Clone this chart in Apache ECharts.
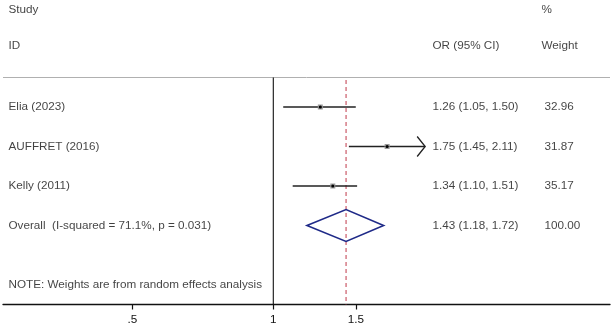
<!DOCTYPE html>
<html>
<head>
<meta charset="utf-8">
<script src="https://cdn.jsdelivr.net/npm/echarts@6/dist/echarts.min.js"></script>
<style>
  html, body { margin: 0; padding: 0; background: #fff; }
  #chart { width: 612px; height: 329px; }
</style>
</head>
<body>
<div id="chart"></div>
<script>
// study rows
const studies = ['Elia (2023)', 'AUFFRET (2016)', 'Kelly (2011)']
const estimates = [1.26, 1.75, 1.34]
const lowers = [1.05, 1.45, 1.10]
const uppers = [1.50, 2.11, 1.51]
const weights = ['32.96', '31.87', '35.17']
const clippedRight = [false, true, false]

// pooled estimate
const overallLabel = 'Overall  (I-squared = 71.1%, p = 0.031)'
const overallEst = 1.43
const overallLow = 1.18
const overallHigh = 1.72
const overallWeight = '100.00'
const noteText = 'NOTE: Weights are from random effects analysis'

// x axis (log scale)
const tickValues = [0.5, 1, 1.5]
const tickLabels = ['.5', '1', '1.5']

// layout: pixel -> data coordinate helpers
const X_ONE = 273.3, PX_LN = 203.4, ROW0 = 67.5, ROW_H = 39.5
const xAt = px => (px - X_ONE) / PX_LN
const yAt = px => (px - ROW0) / ROW_H
const xMin = xAt(3), xMax = xAt(610)
const yMin = yAt(0), yMax = yAt(304.5)

const FONT = { fontFamily: '"Liberation Sans", Arial, sans-serif', fontSize: 11.7, color: '#111' }
const fmtCI = (e, l, u) => `${e.toFixed(2)} (${l.toFixed(2)}, ${u.toFixed(2)})`

const textItems = [
  [xAt(8), yAt(10), 'Study'],
  [xAt(8), yAt(46), 'ID'],
  [xAt(432), yAt(46), 'OR (95% CI)'],
  [xAt(541), yAt(10), '%'],
  [xAt(541), yAt(46), 'Weight']
]
studies.forEach((s, i) => {
  textItems.push([xAt(8), i + 1, s])
  textItems.push([xAt(432), i + 1, fmtCI(estimates[i], lowers[i], uppers[i])])
  textItems.push([xAt(544), i + 1, weights[i]])
})
textItems.push([xAt(8), 4, overallLabel])
textItems.push([xAt(432), 4, fmtCI(overallEst, overallLow, overallHigh)])
textItems.push([xAt(544), 4, overallWeight])
textItems.push([xAt(8), 5.5, noteText])

const chart = echarts.init(document.getElementById('chart'))

const plainLine = (data, color, width, type) => ({
  type: 'line',
  data,
  symbol: 'none',
  silent: true,
  lineStyle: { color, width, type: type || 'solid' },
  z: 1
})

chart.setOption({
  animation: false,
  grid: { left: 3, right: 2, top: 0, bottom: 24.5 },
  xAxis: {
    type: 'value',
    position: 'bottom',
    min: xMin,
    max: xMax,
    splitLine: { show: false },
    axisLine: { show: true, onZero: false, lineStyle: { color: '#111', width: 1.3 } },
    axisTick: {
      show: true,
      length: 5,
      customValues: tickValues.map(Math.log),
      lineStyle: { color: '#111', width: 1.2 }
    },
    axisLabel: {
      customValues: tickValues.map(Math.log),
      margin: 9,
      ...FONT,
      formatter: v => {
        const i = tickValues.findIndex(t => Math.abs(Math.log(t) - v) < 1e-6)
        return i >= 0 ? tickLabels[i] : ''
      }
    }
  },
  yAxis: { type: 'value', inverse: true, min: yMin, max: yMax, show: false },
  series: [
    plainLine([[xMin, yAt(77.5)], [xMax, yAt(77.5)]], '#b0b0b0', 1),
    plainLine([[0, yAt(77.5)], [0, yMax]], '#111', 1.1),
    plainLine([[Math.log(overallEst), yAt(80)], [Math.log(overallEst), yMax]], '#c0394a', 1, [4, 3]),
    {
      type: 'custom',
      silent: true,
      z: 3,
      data: studies.map((s, i) => [Math.log(estimates[i]), i + 1, Math.log(lowers[i]), Math.log(uppers[i])]),
      encode: { x: [0, 2, 3], y: 1 },
      renderItem: (params, api) => {
        const i = params.dataIndex
        const y = api.coord([0, api.value(1)])[1]
        const xe = api.coord([api.value(0), 0])[0]
        const xl = api.coord([api.value(2), 0])[0]
        const xh = api.coord([api.value(3), 0])[0]
        const children = [
          { type: 'line', shape: { x1: xl, y1: y, x2: xh, y2: y }, style: { stroke: '#222', lineWidth: 1.3 } },
          { type: 'rect', shape: { x: xe - 2.5, y: y - 2.5, width: 5, height: 5 }, style: { fill: '#9a9a9a' } },
          { type: 'circle', shape: { cx: xe, cy: y, r: 1.6 }, style: { fill: '#000' } }
        ]
        if (clippedRight[i]) {
          children.push({
            type: 'polyline',
            shape: { points: [[xh - 8, y - 10], [xh, y], [xh - 8, y + 10]] },
            style: { stroke: '#222', fill: null, lineWidth: 1.3 }
          })
        }
        return { type: 'group', children }
      }
    },
    {
      type: 'custom',
      silent: true,
      z: 3,
      data: [[Math.log(overallEst), 4, Math.log(overallLow), Math.log(overallHigh)]],
      encode: { x: [0, 2, 3], y: 1 },
      renderItem: (params, api) => {
        const y = api.coord([0, api.value(1)])[1]
        const xe = api.coord([api.value(0), 0])[0]
        const xl = api.coord([api.value(2), 0])[0]
        const xh = api.coord([api.value(3), 0])[0]
        return {
          type: 'polygon',
          shape: { points: [[xl, y], [xe, y - 16], [xh, y], [xe, y + 16]] },
          style: { stroke: '#1f2a88', fill: null, lineWidth: 1.6 }
        }
      }
    },
    {
      type: 'scatter',
      silent: true,
      symbolSize: 1,
      itemStyle: { color: 'transparent' },
      data: textItems,
      label: {
        show: true,
        position: 'right',
        distance: 0,
        ...FONT,
        formatter: p => p.value[2]
      },
      z: 4
    }
  ]
})
</script>
</body>
</html>
